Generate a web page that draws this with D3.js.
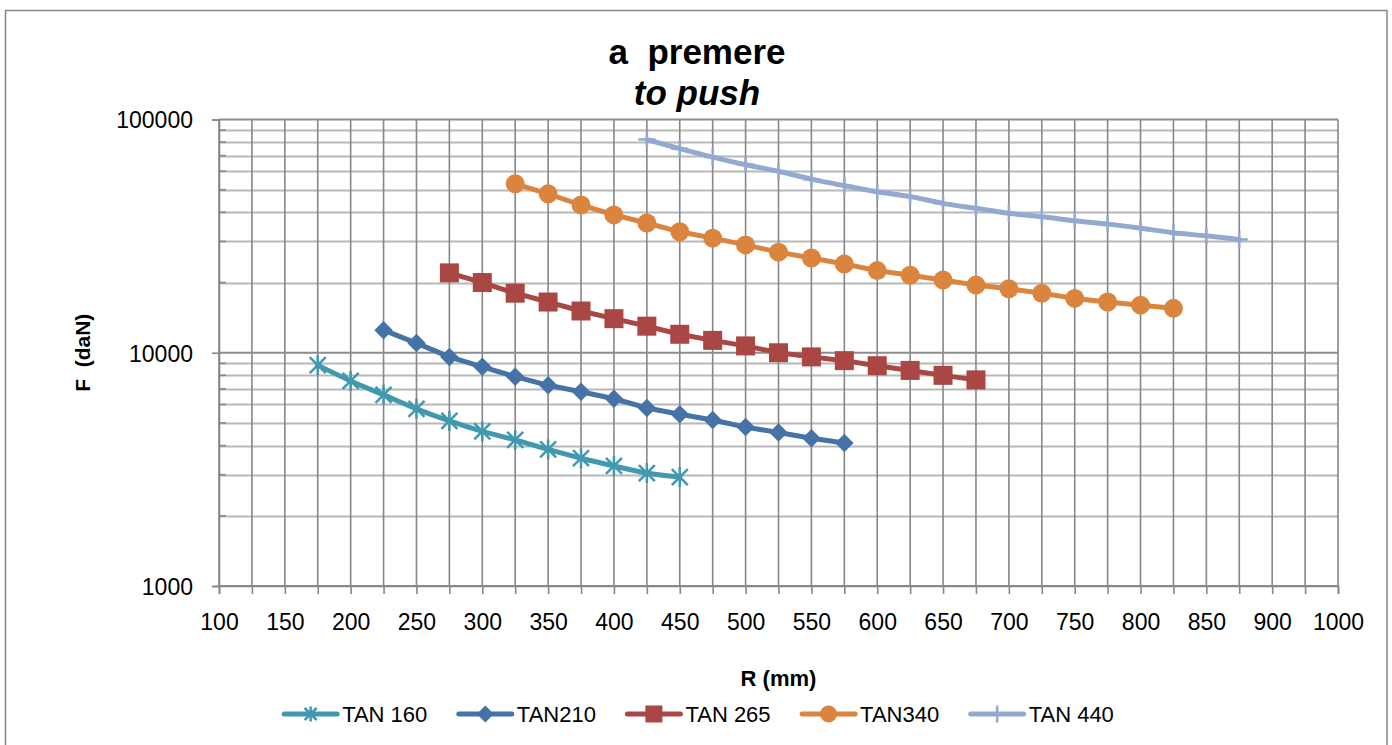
<!DOCTYPE html>
<html>
<head>
<meta charset="utf-8">
<script src="https://cdn.jsdelivr.net/npm/d3@7/dist/d3.min.js"></script>
<style>
  body { margin: 0; background: #fff; }
  svg { display: block; }
  text { font-family: "Liberation Sans", Arial, sans-serif; fill: #000; }
</style>
</head>
<body>
<svg id="chart" width="1392" height="745"></svg>
<script>
// ---------------- DATA ----------------
const titleLine1 = "a  premere";
const titleLine2 = "to push";
const xTitle = "R (mm)";
const yTitle = "F  (daN)";

// category axis (R in mm)
const categories = [100,125,150,175,200,225,250,275,300,325,350,375,400,425,450,475,500,525,550,575,600,625,650,675,700,725,750,775,800,825,850,875,900,950,1000];
const xTickLabels = [100,150,200,250,300,350,400,450,500,550,600,650,700,750,800,850,900,1000];
const yTickLabels = [1000,10000,100000];
const yMinorTicks = [2000,3000,4000,5000,6000,7000,8000,9000,20000,30000,40000,50000,60000,70000,80000,90000];

const seriesNames = ["TAN 160","TAN210","TAN 265","TAN340","TAN 440"];

const r160 = [175,200,225,250,275,300,325,350,375,400,425,450];
const tan160 = [8850,7570,6600,5750,5100,4600,4230,3850,3530,3270,3050,2930];

const r210 = [225,250,275,300,325,350,375,400,425,450,475,500,525,550,575];
const tan210 = [12500,11000,9600,8700,7900,7250,6800,6350,5800,5450,5150,4800,4550,4300,4100];

const r265 = [275,300,325,350,375,400,425,450,475,500,525,550,575,600,625,650,675];
const tan265 = [22000,20000,18000,16500,15100,14000,13000,12000,11300,10700,10000,9600,9250,8800,8400,8000,7650];

const r340 = [325,350,375,400,425,450,475,500,525,550,575,600,625,650,675,700,725,750,775,800,825];
const tan340 = [53000,48000,43000,39000,36000,33000,31000,29000,27000,25500,24000,22500,21500,20500,19500,18800,18000,17100,16500,16000,15500];

const r440 = [425,450,475,500,525,550,575,600,625,650,675,700,725,750,775,800,825,850,875];
const tan440 = [82000,75000,69000,64000,60000,55500,52000,49000,46700,43700,41600,39600,38300,36800,35600,34200,32700,31700,30600];

const seriesColors = ["#4198AF","#4572A7","#AA4643","#DB843D","#93A9CF"];
const seriesMarkers = ["star","diamond","square","circle","plus"];
const seriesSmooth = [true,false,false,false,true];

// ---------------- LAYOUT ----------------
const svg = d3.select("#chart");
const plot = {left: 219, right: 1338, top: 119.5, bottom: 586};

const x = d3.scalePoint().domain(categories.map(String)).range([plot.left, plot.right]).padding(0);
const y = d3.scaleLog().domain([1000, 100000]).range([plot.bottom, plot.top]);

// outer chart border
svg.append("rect")
  .attr("x", 5.5).attr("y", 10.5)
  .attr("width", 1381.5).attr("height", 745)
  .attr("fill", "#fff").attr("stroke", "#878787").attr("stroke-width", 1.5);

// ---------------- GRID ----------------
const grid = svg.append("g");
grid.selectAll("line.minor").data(yMinorTicks).join("line")
  .attr("x1", plot.left).attr("x2", plot.right)
  .attr("y1", d => Math.round(y(d)) + 0.5).attr("y2", d => Math.round(y(d)) + 0.5)
  .attr("stroke", "#b8b8b8").attr("stroke-width", 2);
grid.selectAll("line.v").data(categories).join("line")
  .attr("x1", d => x(String(d))).attr("x2", d => x(String(d)))
  .attr("y1", plot.top).attr("y2", plot.bottom)
  .attr("stroke", "#878787").attr("stroke-width", 1.6);
grid.selectAll("line.major").data(yTickLabels).join("line")
  .attr("x1", plot.left).attr("x2", plot.right)
  .attr("y1", d => y(d)).attr("y2", d => y(d))
  .attr("stroke", "#8c8c8c").attr("stroke-width", 2);

// ---------------- AXES ----------------
const yAxis = d3.axisLeft(y).tickValues(yTickLabels).tickFormat(d3.format("d")).tickSize(7).tickPadding(19);
const gy = svg.append("g").attr("transform", `translate(${plot.left},0)`).call(yAxis);
gy.select(".domain").attr("stroke", "#878787").attr("stroke-width", 1.6);
gy.selectAll(".tick line").attr("stroke", "#878787").attr("stroke-width", 1.6);
gy.selectAll(".tick text").style("font-size", "23px").style("font-family", '"Liberation Sans", Arial, sans-serif').attr("fill", "#000").attr("dy", "0.36em");
svg.append("g").selectAll("line").data(yMinorTicks).join("line")
  .attr("x1", plot.left).attr("x2", plot.left + 7)
  .attr("y1", d => y(d)).attr("y2", d => y(d))
  .attr("stroke", "#878787").attr("stroke-width", 1.6);

const xAxis = d3.axisBottom(x).tickValues(categories.map(String))
  .tickFormat(d => xTickLabels.includes(+d) ? d : "").tickSize(8).tickPadding(20);
const gx = svg.append("g").attr("transform", `translate(0,${plot.bottom})`).call(xAxis);
gx.select(".domain").attr("stroke", "#878787").attr("stroke-width", 1.6);
gx.selectAll(".tick line").attr("stroke", "#878787").attr("stroke-width", 1.6);
gx.selectAll(".tick text").style("font-size", "23px").style("font-family", '"Liberation Sans", Arial, sans-serif').attr("fill", "#000");

// ---------------- TITLES ----------------
svg.append("text").attr("x", 697).attr("y", 64).attr("text-anchor", "middle")
  .style("font-size", "35px").style("font-weight", "bold").style("white-space", "pre").text(titleLine1);
svg.append("text").attr("x", 697).attr("y", 105).attr("text-anchor", "middle")
  .style("font-size", "35px").style("font-weight", "bold").style("font-style", "italic").text(titleLine2);

svg.append("text").attr("x", (plot.left + plot.right) / 2).attr("y", 686).attr("text-anchor", "middle")
  .style("font-size", "22px").style("font-weight", "bold").text(xTitle);
svg.append("text").attr("transform", `translate(90,${(plot.top + plot.bottom) / 2}) rotate(-90)`)
  .attr("text-anchor", "middle").style("font-size", "21px").style("font-weight", "bold").style("white-space", "pre").text(yTitle);

// ---------------- SERIES ----------------
const seriesR = [r160, r210, r265, r340, r440];
const seriesV = [tan160, tan210, tan265, tan340, tan440];

function markerPath(type, s) {
  const h = s / 2;
  switch (type) {
    case "diamond": return `M0,${-h}L${h},0L0,${h}L${-h},0Z`;
    case "square": return `M${-h},${-h}H${h}V${h}H${-h}Z`;
    case "star": {
      const d = h * 0.8;
      return `M0,${-h}V${h}M${-d},${-d}L${d},${d}M${-d},${d}L${d},${-d}`;
    }
    case "plus": return `M0,${-h}V${h}M${-h},0H${h}`;
  }
  return "";
}

function drawMarker(g, type, color, px, py, size) {
  if (type === "circle") {
    g.append("circle").attr("cx", px).attr("cy", py).attr("r", size / 2).attr("fill", color);
  } else if (type === "star" || type === "plus") {
    g.append("path").attr("d", markerPath(type, size)).attr("transform", `translate(${px},${py})`)
      .attr("fill", "none").attr("stroke", color).attr("stroke-width", 2.5);
  } else {
    g.append("path").attr("d", markerPath(type, size)).attr("transform", `translate(${px},${py})`)
      .attr("fill", color);
  }
}

const markerSizes = {star: 20, diamond: 18.5, square: 19, circle: 19, plus: 17};

seriesNames.forEach((name, i) => {
  const data = seriesR[i].map((r, j) => ({r: r, v: seriesV[i][j]}));
  const line = d3.line()
    .x(d => x(String(d.r))).y(d => y(d.v))
    .curve(seriesSmooth[i] ? d3.curveCatmullRom.alpha(0.5) : d3.curveLinear);
  const g = svg.append("g");
  g.append("path").datum(data).attr("d", line)
    .attr("fill", "none").attr("stroke", seriesColors[i]).attr("stroke-width", 5)
    .attr("stroke-linejoin", "round").attr("stroke-linecap", "round");
  data.forEach(d => drawMarker(g, seriesMarkers[i], seriesColors[i], x(String(d.r)), y(d.v), markerSizes[seriesMarkers[i]]));
});

// ---------------- LEGEND ----------------
const legend = svg.append("g");
const legY = 714, lineLen = 53, textGap = 5, entryGap = 31.5;
let cx = 0;
seriesNames.forEach((name, i) => {
  const g = legend.append("g");
  g.append("line").attr("x1", 0).attr("x2", lineLen).attr("y1", 0).attr("y2", 0)
    .attr("stroke", seriesColors[i]).attr("stroke-width", 5).attr("stroke-linecap", "round");
  const ms = seriesMarkers[i] === "star" ? 15 : 17;
  drawMarker(g, seriesMarkers[i], seriesColors[i], lineLen / 2, 0, ms);
  const t = g.append("text").attr("x", lineLen + textGap).attr("y", 0).attr("dy", "0.36em")
    .style("font-size", "22px").text(name);
  const w = lineLen + textGap + t.node().getComputedTextLength();
  g.attr("transform", `translate(${cx},${legY})`);
  cx += w + entryGap;
});
const total = cx - entryGap;
legend.attr("transform", `translate(${699 - total / 2},0)`);
</script>
</body>
</html>
